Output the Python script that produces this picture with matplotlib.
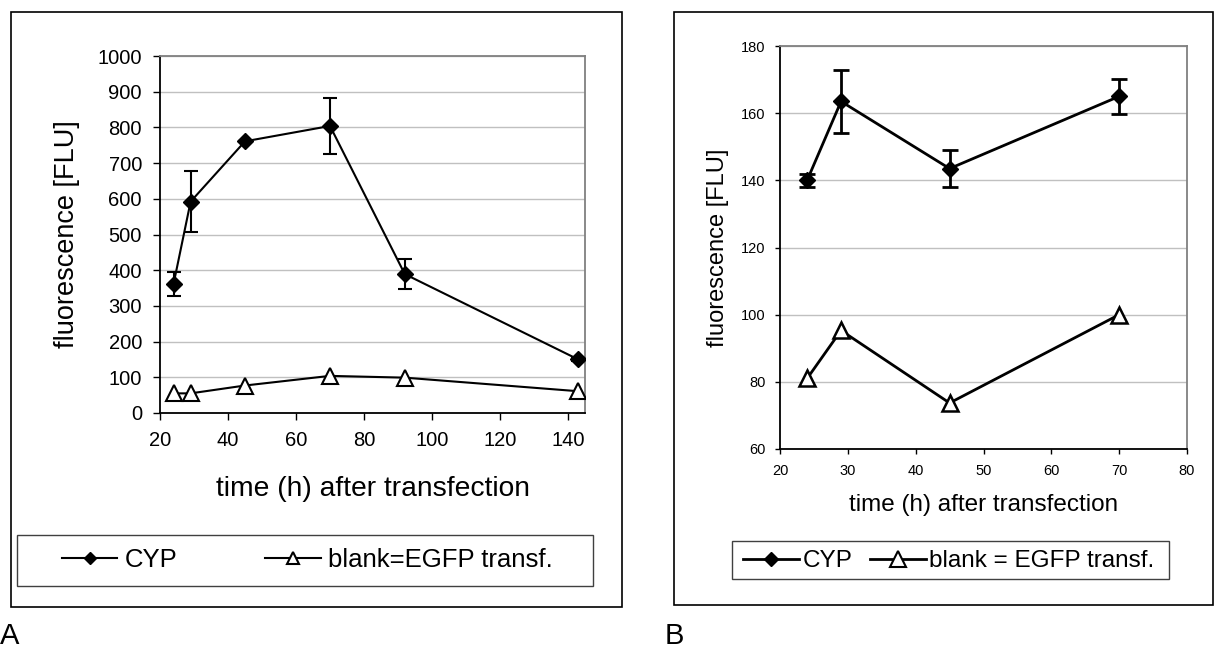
import matplotlib
matplotlib.use("Agg")
import matplotlib.pyplot as plt
from matplotlib.patches import Rectangle
from matplotlib.lines import Line2D

plt.rcParams["font.family"] = ["Liberation Sans", "DejaVu Sans"]

# panel A data
time_a = [24, 29, 45, 70, 92, 143]
cyp_a = [362, 592, 761, 804, 389, 150]
cyp_a_err = [33, 85, 0, 78, 42, 5]
blank_a = [55, 55, 77, 104, 99, 61]

# panel B data
time_b = [24, 29, 45, 70]
cyp_b = [140, 163.5, 143.5, 165]
cyp_b_err = [2, 9.4, 5.6, 5.3]
blank_b = [81, 95.3, 73.7, 100]

xticks_a = [20, 40, 60, 80, 100, 120, 140]
yticks_a = list(range(0, 1001, 100))
xticks_b = [20, 30, 40, 50, 60, 70, 80]
yticks_b = [60, 80, 100, 120, 140, 160, 180]

W, H = 1214, 649
fig = plt.figure(figsize=(W / 100, H / 100), dpi=100)


def fx(px):
    return px / W


def fy(py):
    return 1 - py / H


def box(x0, y0, x1, y1, ec="black", lw=1.2):
    fig.patches.append(Rectangle((fx(x0), fy(y1)), (x1 - x0) / W, (y1 - y0) / H,
                                 transform=fig.transFigure, fill=False,
                                 ec=ec, lw=lw))


def style_axes(ax, tick_fs, ticklen, pad):
    ax.set_facecolor("white")
    for s in ("top", "right"):
        ax.spines[s].set_color("#808080")
    for s in ("left", "bottom"):
        ax.spines[s].set_color("black")
    for s in ax.spines.values():
        s.set_linewidth(1.3)
    ax.grid(axis="y", color="#c0c0c0", lw=1.0)
    ax.set_axisbelow(True)
    ax.tick_params(direction="out", length=ticklen, width=1.0,
                   labelsize=tick_fs, pad=pad, top=False, right=False)


# outer frames
box(11, 12, 622, 607)
box(674, 12, 1213, 605)

# ---- panel A ----
ax_a = fig.add_axes([fx(160), fy(413), (585 - 160) / W, (413 - 56) / H])
ax_a.errorbar(time_a, cyp_a, yerr=cyp_a_err, color="black", lw=1.5,
              marker="D", ms=8, mfc="black", mec="black",
              capsize=5, elinewidth=1.5, capthick=1.5, zorder=3)
ax_a.plot(time_a, blank_a, color="black", lw=1.5, marker="^", ms=12,
          mfc="white", mec="black", mew=1.5, zorder=3)
ax_a.set_xlim(20, 145)
ax_a.set_ylim(0, 1000)
ax_a.set_xticks(xticks_a)
ax_a.set_yticks(yticks_a)
style_axes(ax_a, 14.5, 5, 8)
ax_a.set_xlabel("time (h) after transfection", fontsize=20.3)
ax_a.xaxis.set_label_coords(0.5, (413 - 476) / 357)
ax_a.set_ylabel("fluorescence [FLU]", fontsize=19.5)
ax_a.yaxis.set_label_coords((80 - 160) / 425, 0.5)

# ---- panel B ----
ax_b = fig.add_axes([fx(780), fy(449), (1187 - 780) / W, (449 - 46) / H])
ax_b.errorbar(time_b, cyp_b, yerr=cyp_b_err, color="black", lw=2,
              marker="D", ms=8.5, mfc="black", mec="black",
              capsize=6, elinewidth=2, capthick=2, zorder=3)
ax_b.plot(time_b, blank_b, color="black", lw=2, marker="^", ms=12,
          mfc="white", mec="black", mew=1.8, zorder=3)
ax_b.set_xlim(20, 80)
ax_b.set_ylim(60, 180)
ax_b.set_xticks(xticks_b)
ax_b.set_yticks(yticks_b)
style_axes(ax_b, 10.5, 3.5, 7)
ax_b.set_xlabel("time (h) after transfection", fontsize=17.5)
ax_b.xaxis.set_label_coords(0.5, (449 - 494) / 403)
ax_b.set_ylabel("fluorescence [FLU]", fontsize=17)
ax_b.yaxis.set_label_coords((729 - 780) / 407, 0.5)

# ---- legends ----
def handles(scale, lw):
    h1 = Line2D([], [], color="black", lw=lw, marker="D", ms=8 * scale,
                mfc="black", mec="black")
    h2 = Line2D([], [], color="black", lw=lw, marker="^", ms=12 * scale,
                mfc="white", mec="black", mew=1.5)
    return [h1, h2]


box(17, 535, 593, 586, ec="#404040", lw=1.0)
fig.legend(handles(0.75, 1.5), ["CYP", "blank=EGFP transf."], ncol=2,
           mode="expand", loc="center", frameon=False, borderpad=0,
           borderaxespad=0, fontsize=18.5, handlelength=2.15,
           handletextpad=0.3,
           bbox_to_anchor=(fx(62), fy(580), (553 - 62) / W, 40 / H))

box(732, 541, 1169, 579, ec="#404040", lw=1.0)
fig.legend(handles(0.95, 2), ["CYP", "blank = EGFP transf."], ncol=2,
           loc="center", frameon=False, borderpad=0, borderaxespad=0,
           fontsize=17.5, handlelength=2.3, handletextpad=0.15,
           columnspacing=0.7,
           bbox_to_anchor=(fx(949), fy(561)))

# panel letters
fig.text(fx(0), fy(644), "A", fontsize=21, ha="left", va="baseline")
fig.text(fx(665), fy(644), "B", fontsize=21, ha="left", va="baseline")

fig.savefig("out.png", dpi=100, facecolor="white")
